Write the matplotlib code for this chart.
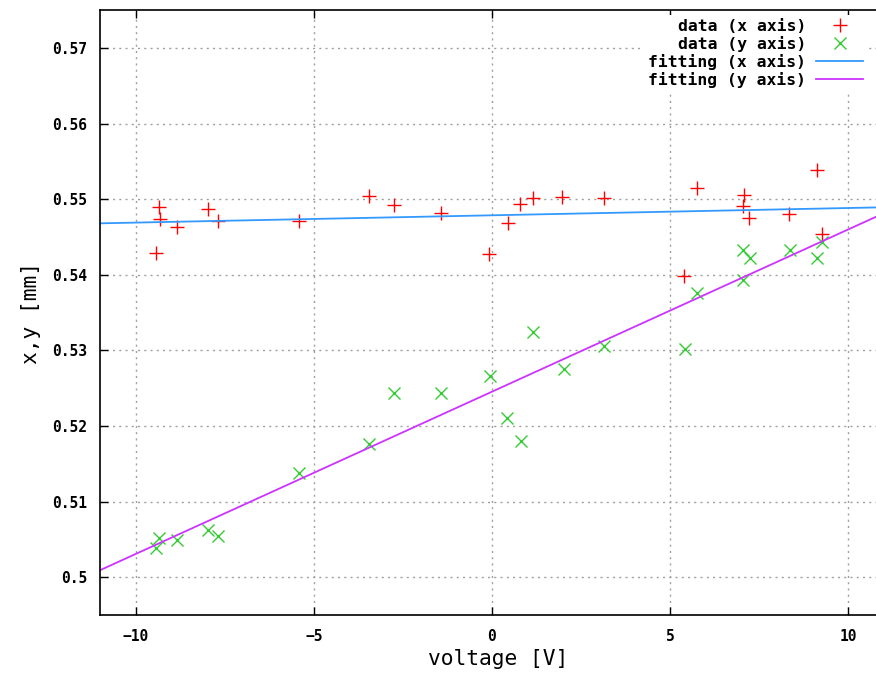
import numpy as np
import matplotlib
matplotlib.use("Agg")
import matplotlib.pyplot as plt

# voltage [V] and measured positions [mm]
volt_x = [-9.44, -9.35, -9.33, -8.85, -7.98, -7.70, -5.42, -3.46, -2.75, -1.43,
          -0.08, 0.45, 0.79, 1.15, 1.97, 3.15, 5.39, 5.76, 7.08, 7.05, 7.22,
          8.34, 9.13, 9.27]
pos_x = [0.5429, 0.5489, 0.5474, 0.5463, 0.5487, 0.5471, 0.5471, 0.5504, 0.5492,
         0.5481, 0.5427, 0.5468, 0.5493, 0.5501, 0.5503, 0.5501, 0.5398, 0.5515,
         0.5505, 0.5491, 0.5475, 0.5480, 0.5538, 0.5454]

volt_y = [-9.44, -9.35, -8.85, -7.98, -7.70, -5.42, -3.46, -2.75, -1.43, -0.06,
          0.42, 0.81, 1.15, 2.02, 3.15, 5.42, 5.76, 7.05, 7.05, 7.25, 8.37,
          9.13, 9.27]
pos_y = [0.5038, 0.5052, 0.5049, 0.5062, 0.5054, 0.5138, 0.5176, 0.5243, 0.5243,
         0.5266, 0.5210, 0.5180, 0.5324, 0.5275, 0.5306, 0.5302, 0.5376, 0.5393,
         0.5433, 0.5422, 0.5433, 0.5422, 0.5443]

# fitted lines: y = a*V + b
fit_x = (9.65e-5, 0.54786)
fit_y = (0.002146, 0.52453)

xlim = (-11.0, 10.78)
ylim = (0.495, 0.575)

mono = "DejaVu Sans Mono"

fig = plt.figure(figsize=(8.76, 6.73), dpi=100)
ax = fig.add_axes([0.1142, 0.0862, 0.8858, 0.8988])

ax.plot(volt_x, pos_x, linestyle="none", marker="+", color="#ff0000",
        markersize=9.5, markeredgewidth=1.0, label="data (x axis)")
ax.plot(volt_y, pos_y, linestyle="none", marker="x", color="#33cc33",
        markersize=8, markeredgewidth=1.0, label="data (y axis)")

vv = np.linspace(xlim[0], xlim[1], 200)
ax.plot(vv, fit_x[0] * vv + fit_x[1], color="#3399ff", lw=1.3, label="fitting (x axis)")
ax.plot(vv, fit_y[0] * vv + fit_y[1], color="#cc33ff", lw=1.3, label="fitting (y axis)")

ax.set_xlim(*xlim)
ax.set_ylim(*ylim)
ax.set_xticks([-10, -5, 0, 5, 10])
ax.set_yticks([0.50, 0.51, 0.52, 0.53, 0.54, 0.55, 0.56, 0.57])
ax.set_yticklabels(["0.5", "0.51", "0.52", "0.53", "0.54", "0.55", "0.56", "0.57"])

ax.grid(True, color="#a0a0a0", linestyle=(0, (1.5, 3)), linewidth=1.0)
ax.tick_params(direction="in", length=6, width=1, top=True, right=False,
               labelsize=10.5)
ax.tick_params(axis="x", pad=10)
ax.tick_params(axis="y", pad=9)
for lab in ax.get_xticklabels() + ax.get_yticklabels():
    lab.set_fontfamily(mono)
    lab.set_fontweight("bold")
for sp in ax.spines.values():
    sp.set_linewidth(1.2)
ax.spines["right"].set_visible(False)

ax.set_xlabel("voltage [V]", fontsize=15.3, family=mono)
ax.xaxis.set_label_coords(0.513, -0.056)
ax.set_ylabel("x,y [mm]", fontsize=15.3, family=mono, labelpad=8)

leg = ax.legend(loc="upper right", bbox_to_anchor=(0.991, 0.995),
                markerfirst=False, frameon=True,
                prop={"family": mono, "weight": "bold", "size": 11.8},
                handlelength=2.9, labelspacing=0.12, borderaxespad=0.1,
                handletextpad=0.6, borderpad=0.25)
leg.get_frame().set_edgecolor("none")
leg.get_frame().set_facecolor("white")
leg.get_frame().set_alpha(1.0)

fig.savefig("out.png", dpi=100)
